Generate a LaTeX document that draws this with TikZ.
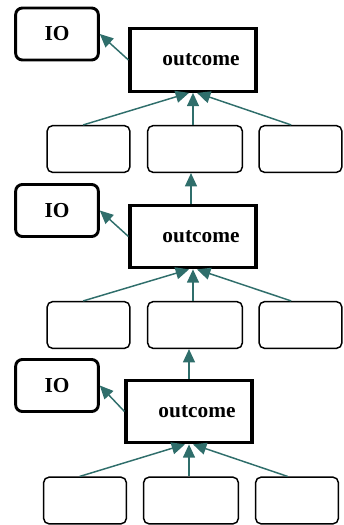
\documentclass[tikz,border=0pt]{standalone}
\usepackage{fontspec}
\setmainfont{Liberation Serif}
\usetikzlibrary{arrows.meta}
\definecolor{teal1}{RGB}{47,110,107}
\tikzset{
  px/.style={x=0.75pt,y=-0.75pt},
  outbox/.style={draw,line width=2.3pt,minimum width=94.5pt,minimum height=47pt,inner sep=0pt,font=\fontsize{16}{18}\selectfont\bfseries},
  iobox/.style={draw,line width=2.2pt,rounded corners=5pt,minimum width=62pt,minimum height=39pt,inner sep=0pt,font=\fontsize{16}{18}\selectfont\bfseries},
  smallbox/.style={draw,line width=1.1pt,rounded corners=4pt,minimum height=35pt,inner sep=0pt},
  conn/.style={draw=teal1,line width=1.1pt,-{Triangle[length=10pt,width=9pt]}}
}
\begin{document}
\begin{tikzpicture}[px]
\useasboundingbox (0,0) rectangle (343,525);
% group 1
\node[outbox] (o1) at (193,60) {\hspace*{12pt}outcome};
\node[iobox] (io1) at (57,34) {IO};
\node[smallbox,minimum width=62pt] (a1) at (88.5,149) {};
\node[smallbox,minimum width=71pt] (b1) at (195,149) {};
\node[smallbox,minimum width=62pt] (c1) at (300.5,149) {};
% group 2
\node[outbox] (o2) at (193,236.5) {\hspace*{12pt}outcome};
\node[iobox] (io2) at (57,210.5) {IO};
\node[smallbox,minimum width=62pt] (a2) at (88.5,325) {};
\node[smallbox,minimum width=71pt] (b2) at (195,325) {};
\node[smallbox,minimum width=62pt] (c2) at (300.5,325) {};
% group 3
\node[outbox] (o3) at (189,411.5) {\hspace*{12pt}outcome};
\node[iobox] (io3) at (57,385.5) {IO};
\node[smallbox,minimum width=62pt] (a3) at (85,500.5) {};
\node[smallbox,minimum width=71pt] (b3) at (191,500.5) {};
\node[smallbox,minimum width=62pt] (c3) at (297,500.5) {};
% connectors
\foreach \g in {1,2,3}{
  \draw[conn] (o\g.west) -- (io\g.east);
  \draw[conn] ([xshift=-4pt]a\g.north) -- ([xshift=-3pt]o\g.south);
  \draw[conn] (o\g.south |- b\g.north) -- (o\g.south);
  \draw[conn] ([xshift=-7pt]c\g.north) -- ([xshift=3pt]o\g.south);
}
\draw[conn] ([xshift=-1.5pt]o2.north) -- ([xshift=-1.5pt]o2.north |- b1.south);
\draw[conn] (o3.north) -- (o3.north |- b2.south);
\end{tikzpicture}
\end{document}
